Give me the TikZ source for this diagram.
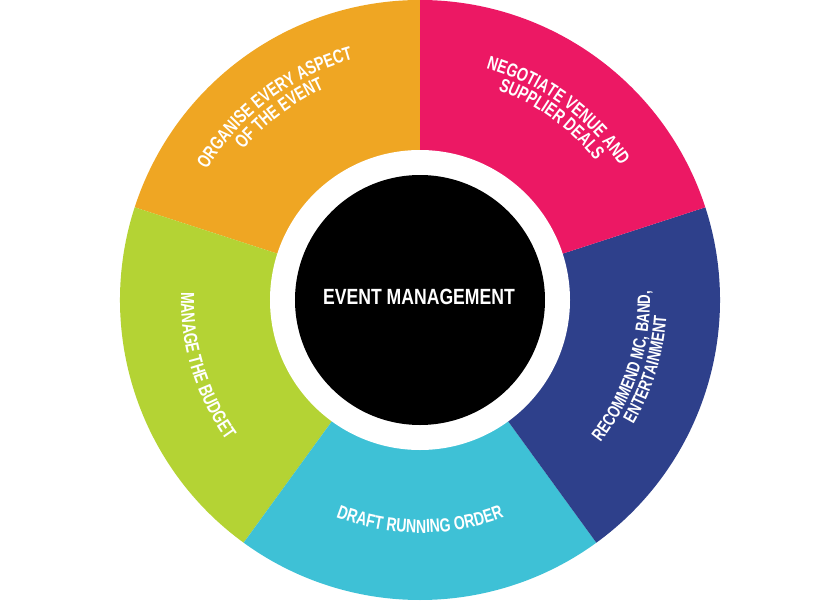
\documentclass[tikz,border=0pt]{standalone}
\usepackage{fontspec}
\setmainfont{Liberation Sans}
\newfontfamily\segfont[FakeStretch=0.74]{Liberation Sans}
\newfontfamily\ctrfont[FakeStretch=0.80]{Liberation Sans}
\usetikzlibrary{decorations.text}
\definecolor{cOrange}{RGB}{239,166,35}
\definecolor{cPink}{RGB}{236,24,100}
\definecolor{cNavy}{RGB}{46,64,139}
\definecolor{cCyan}{RGB}{62,193,214}
\definecolor{cGreen}{RGB}{180,211,52}
\newcommand\segfmt{\segfont\bfseries\fontsize{19}{19}\selectfont}
\newcommand\segfmtsm{\segfont\bfseries\fontsize{18}{18}\selectfont}
\tikzset{
  wedge/.style={fill=#1},
  lbl/.style={decorate, decoration={text along path, text align=center, text color=white, text={|\segfmt|#1}}},
  lblsm/.style={decorate, decoration={text along path, text align=center, text color=white, text={|\segfmtsm|#1}}},
  ctr/.style={text=white, font=\ctrfont\bfseries\fontsize{22}{22}\selectfont, inner sep=0pt}
}
\begin{document}
\begin{tikzpicture}[x=1pt,y=1pt]
\useasboundingbox (-420,-300) rectangle (420,300);
\fill[white] (-420,-300) rectangle (420,300);
% wedges
\fill[wedge=cOrange] (0,0) -- (90:300) arc[start angle=90, end angle=162, radius=300] -- cycle;
\fill[wedge=cGreen] (0,0) -- (162:300) arc[start angle=162, end angle=234, radius=300] -- cycle;
\fill[wedge=cCyan] (0,0) -- (234:300) arc[start angle=234, end angle=306, radius=300] -- cycle;
\fill[wedge=cNavy] (0,0) -- (306:300) arc[start angle=306, end angle=378, radius=300] -- cycle;
\fill[wedge=cPink] (0,0) -- (18:300) arc[start angle=18, end angle=90, radius=300] -- cycle;
% hub
\fill[white] (0,0) circle[radius=150];
\fill[black] (0,0) circle[radius=125];
\node[ctr] (title) at (-1,3) {EVENT MANAGEMENT};
% labels along arcs
\path[lbl={ORGANISE EVERY ASPECT}] (172:250) arc[start angle=172, end angle=82, radius=250];
\path[lbl={OF THE EVENT}] (167:232) arc[start angle=167, end angle=87, radius=232];
\path[lbl={NEGOTIATE VENUE AND}] (99:241) arc[start angle=99, end angle=9, radius=241];
\path[lbl={SUPPLIER DEALS}] (94:224) arc[start angle=94, end angle=14, radius=224];
\path[lbl={MANAGE THE BUDGET}] (152:239) arc[start angle=152, end angle=242, radius=239];
\path[lbl={DRAFT RUNNING ORDER}] (225:233) arc[start angle=225, end angle=315, radius=233];
\path[lblsm={RECOMMEND MC, BAND,}] (-63:230) arc[start angle=-63, end angle=27, radius=230];
\path[lblsm={ENTERTAINMENT}] (-57:247) arc[start angle=-57, end angle=23, radius=247];
\end{tikzpicture}
\end{document}
